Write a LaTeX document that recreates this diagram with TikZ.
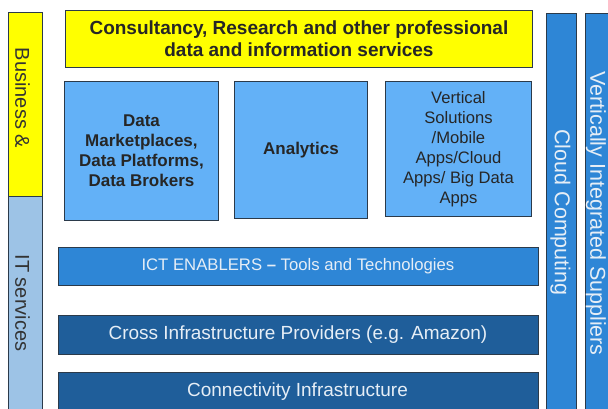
\documentclass[tikz,border=0pt]{standalone}
\usepackage{fontspec}
\setmainfont{Liberation Sans}
\definecolor{ylw}{HTML}{FFFF00}
\definecolor{lightbox}{HTML}{63B1F7}
\definecolor{midblue}{HTML}{2E86D6}
\definecolor{darkblue}{HTML}{1F5E9A}
\definecolor{paleblue}{HTML}{9DC3E6}
\definecolor{edge}{HTML}{2B3A4A}
\definecolor{txtlight}{HTML}{E6EEF6}
\begin{document}
\begin{tikzpicture}[x=1pt,y=1pt,
  base/.style={draw=edge, line width=0.9pt, inner sep=2pt, anchor=north west, align=center},
  ybox/.style={base, fill=ylw, text=black!85, font=\bfseries\fontsize{19}{22.5}\selectfont},
  lbox/.style={base, fill=lightbox, text=black!85},
  bar/.style={base, fill=midblue, text=txtlight, font=\fontsize{16.7}{20}\selectfont},
  dbar/.style={base, fill=darkblue, text=txtlight, font=\fontsize{19}{22}\selectfont},
  vbar/.style={base, fill=midblue},
  sidey/.style={base, fill=ylw},
  sideb/.style={base, fill=paleblue},
  vtext/.style={rotate=-90, inner sep=0pt}]
\useasboundingbox (0,0) rectangle (608,-409);
\begin{scope}
\clip (0,0) rectangle (608,-409);
% left side bar
\node[sidey, minimum width=34pt, minimum height=184pt] (busi) at (8,-12) {};
\node[vtext, text=black!80, font=\fontsize{20}{24}\selectfont] (busit) at (22.5,-98) {Business \&};
\node[sideb, minimum width=34pt, minimum height=216pt] (itsv) at (8,-196) {};
\node[vtext, text=black!80, font=\fontsize{20}{24}\selectfont] (itsvt) at (22.5,-303) {IT services};
% top box
\node[ybox, minimum width=467pt, minimum height=57pt] (cons) at (65,-10)
  {Consultancy, Research and other professional\\data and information services};
% middle boxes
\node[lbox, minimum width=154pt, minimum height=139pt, font=\bfseries\fontsize{17}{20}\selectfont] (dm) at (64,-81)
  {Data\\Marketplaces,\\Data Platforms,\\Data Brokers};
\node[lbox, minimum width=133pt, minimum height=137pt, font=\bfseries\fontsize{17}{20}\selectfont] (an) at (234,-81) {Analytics};
\node[lbox, minimum width=146pt, minimum height=135pt, font=\fontsize{16.6}{20}\selectfont] (vs) at (385,-81)
  {Vertical\\Solutions\\/Mobile\\Apps/Cloud\\Apps/ Big Data\\Apps};
% horizontal bars
\node[bar, minimum width=480pt, minimum height=38pt] (ict) at (57.5,-247)
  {ICT ENABLERS \textbf{--} Tools and Technologies};
\node[dbar, minimum width=480pt, minimum height=39pt] (cross) at (57.5,-315)
  {Cross Infrastructure Providers (e.g. Amazon)};
\node[dbar, minimum width=480pt, minimum height=42pt] (conn) at (57.5,-372) {};
\node[text=txtlight, font=\fontsize{19}{22}\selectfont] (connt) at (297.5,-392) {Connectivity Infrastructure};
% right vertical bars
\node[vbar, minimum width=30pt, minimum height=400pt] (cloud) at (546,-13) {};
\node[vtext, text=txtlight, font=\fontsize{21.5}{25}\selectfont] (cloudt) at (560.5,-212.5) {Cloud Computing};
\node[vbar, minimum width=31pt, minimum height=400pt] (vis) at (585,-13) {};
\node[vtext, text=txtlight, font=\fontsize{21.5}{25}\selectfont] (vist) at (596,-213.5) {Vertically Integrated Suppliers};
\end{scope}
\end{tikzpicture}
\end{document}
